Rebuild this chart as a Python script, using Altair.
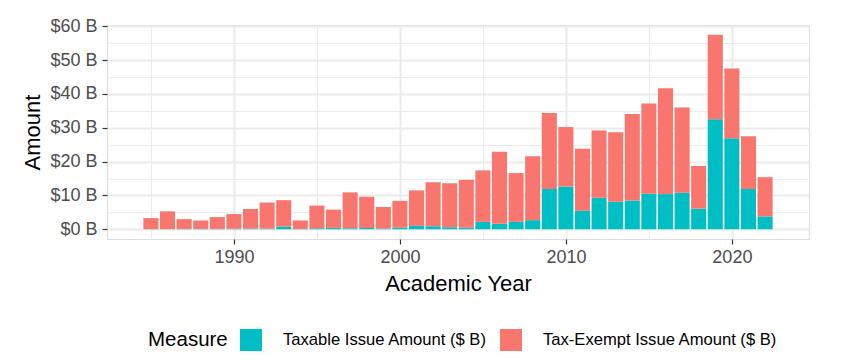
import altair as alt
import pandas as pd

years = list(range(1985, 2023))
taxable = [0.05, 0.05, 0.1, 0.1, 0.1, 0.15, 0.2, 0.2, 0.8, 0.1,
           0.3, 0.4, 0.3, 0.4, 0.2, 0.5, 1.0, 0.9, 0.6, 0.5,
           2.2, 1.6, 2.2, 2.7, 11.9, 12.6, 5.5, 9.3, 8.1, 8.5,
           10.5, 10.4, 10.8, 6.1, 32.5, 26.9, 11.9, 3.8]
exempt = [3.25, 5.25, 2.9, 2.5, 3.5, 4.35, 5.8, 7.7, 7.8, 2.5,
          6.7, 5.4, 10.6, 9.2, 6.4, 7.9, 10.5, 13.0, 13.0, 14.1,
          15.2, 21.3, 14.4, 18.9, 22.5, 17.6, 18.3, 19.9, 20.6, 25.6,
          26.7, 31.3, 25.2, 12.6, 25.0, 20.6, 15.6, 11.6]
measures = ["Taxable Issue Amount ($ B)", "Tax-Exempt Issue Amount ($ B)"]
colors = ["#00BFC4", "#F8766D"]

rows = []
for y, t, e in zip(years, taxable, exempt):
    rows.append({"year": y, "measure": measures[0], "amount": t, "ord": 0})
    rows.append({"year": y, "measure": measures[1], "amount": e, "ord": 1})
df = pd.DataFrame(rows)

FONT = "Liberation Sans"
major = "datum.value % 10 === 0"

x_axis = alt.Axis(
    title="Academic Year",
    values=list(range(1985, 2025, 5)),
    labelExpr="datum.value % 10 === 0 ? datum.label : ''",
    format="d",
    grid=True,
    gridColor="#EBEBEB",
    gridWidth={"condition": {"test": major, "value": 2}, "value": 1},
    tickOpacity={"condition": {"test": major, "value": 1}, "value": 0},
    tickColor="#333333", tickSize=5, tickWidth=1.2,
    domain=False,
    labelFont=FONT, labelFontSize=18, labelColor="#4D4D4D", labelPadding=4,
    labelFlush=False, labelOverlap=False,
    titleFont=FONT, titleFontSize=22, titleFontWeight="normal", titleColor="#000000",
    titleBaseline="alphabetic", titleX=351, titleY=51,
)
y_axis = alt.Axis(
    title="Amount",
    values=list(range(0, 65, 5)),
    labelExpr="datum.value % 10 === 0 ? '$' + datum.value + ' B' : ''",
    grid=True,
    gridColor="#EBEBEB",
    gridWidth={"condition": {"test": major, "value": 2}, "value": 1},
    tickOpacity={"condition": {"test": major, "value": 1}, "value": 0},
    tickColor="#333333", tickSize=5, tickWidth=1.2,
    domain=False,
    labelFont=FONT, labelFontSize=18, labelColor="#4D4D4D", labelPadding=5,
    labelOverlap=False,
    titleFont=FONT, titleFontSize=22, titleFontWeight="normal", titleColor="#000000",
    titleAngle=-90, titleBaseline="alphabetic", titleX=-68, titleY=107,
)

legend = alt.Legend(
    title="Measure", orient="none", legendX=41, legendY=304,
    direction="horizontal", titleOrient="left", titleAnchor="middle",
    titleFont=FONT, titleFontSize=20.5, titleFontWeight="normal", titleColor="#000000",
    titlePadding=12, labelFont=FONT, labelFontSize=16.6, labelColor="#000000",
    labelLimit=0, labelOffset=21, columnPadding=13, symbolType="square",
    symbolSize=484, symbolStrokeWidth=0, symbolOpacity=1, padding=0,
)

chart = alt.Chart(df).mark_bar(size=15.1).encode(
    x=alt.X("year:Q", axis=x_axis,
            scale=alt.Scale(domain=[1982.655, 2024.345], nice=False, zero=False)),
    y=alt.Y("amount:Q", stack="zero", axis=y_axis,
            scale=alt.Scale(domain=[-2.875, 60.375], nice=False, zero=False)),
    color=alt.Color("measure:N", legend=legend,
                    scale=alt.Scale(domain=measures, range=colors),
                    sort=measures),
    order=alt.Order("ord:Q", sort="ascending"),
).properties(
    width=702, height=214,
    autosize=alt.AutoSizeParams(type="none"),
    padding={"left": 99, "top": 17, "right": 39, "bottom": 117},
).configure_view(
    stroke="#4D4D4D", strokeWidth=1.3
).configure(background="white")

chart.save("out.html", embed_options={"renderer": "svg", "actions": False})
